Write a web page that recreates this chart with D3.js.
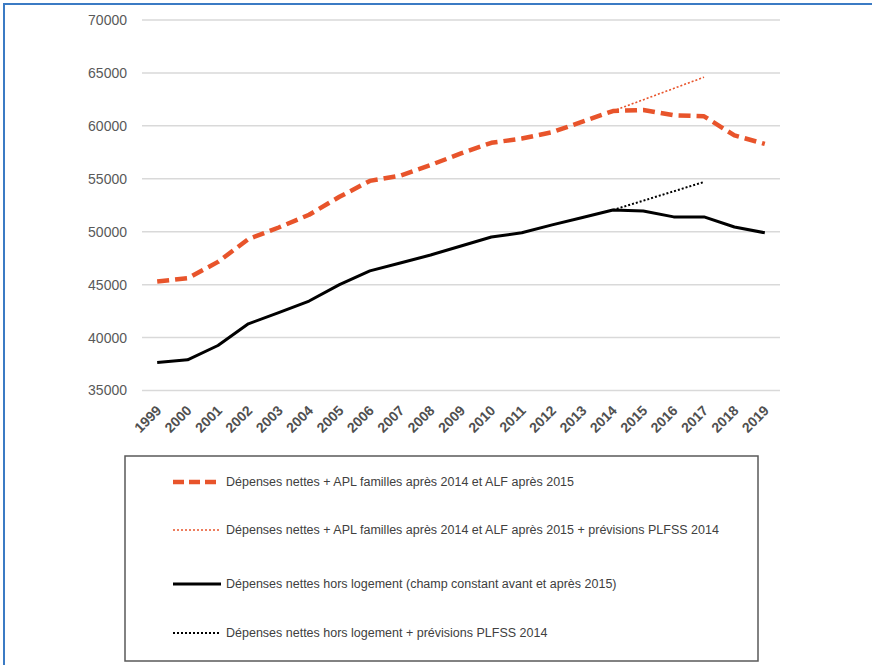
<!DOCTYPE html>
<html>
<head>
<meta charset="utf-8">
<script src="https://cdn.jsdelivr.net/npm/d3@7"></script>
<style>
  body { margin: 0; background: #fff; }
  svg { display: block; font-family: "Liberation Sans", Arial, sans-serif; }
</style>
</head>
<body>
<svg id="chart" width="872" height="665"></svg>
<script>
const years = ["1999","2000","2001","2002","2003","2004","2005","2006","2007","2008","2009",
               "2010","2011","2012","2013","2014","2015","2016","2017","2018","2019"];

// Dépenses nettes + APL familles après 2014 et ALF après 2015
const avecLogement = [45300, 45600, 47150, 49300, 50400, 51600, 53300, 54800, 55300, 56300, 57400,
                      58400, 58800, 59400, 60400, 61400, 61500, 61000, 60900, 59100, 58300];
// ... + prévisions PLFSS 2014
const avecLogementPrev = [null, null, null, null, null, null, null, null, null, null, null,
                          null, null, null, null, 61400, null, null, 64600, null, null];
// Dépenses nettes hors logement
const horsLogement = [37650, 37900, 39250, 41300, 42350, 43450, 45000, 46300, 47050, 47800, 48650,
                      49500, 49900, 50650, 51350, 52050, 51950, 51400, 51400, 50450, 49900];
// ... + prévisions PLFSS 2014
const horsLogementPrev = [null, null, null, null, null, null, null, null, null, null, null,
                          null, null, null, null, 52050, null, null, 54700, null, null];

const yTicks = [35000, 40000, 45000, 50000, 55000, 60000, 65000, 70000];

const legendLabels = [
  "Dépenses nettes + APL familles après 2014 et ALF après 2015",
  "Dépenses nettes + APL familles après 2014 et ALF après 2015 + prévisions PLFSS 2014",
  "Dépenses nettes hors logement (champ constant avant et après 2015)",
  "Dépenses nettes hors logement + prévisions PLFSS 2014"
];

const red = "#e8542b";
const series = [
  { values: avecLogement, color: red, width: 4.5, dash: "12,6" },
  { values: avecLogementPrev, color: red, width: 1.6, dash: "2,2" },
  { values: horsLogement, color: "#000", width: 3, dash: null },
  { values: horsLogementPrev, color: "#000", width: 2, dash: "2,2" }
];

const svg = d3.select("#chart");

// blue frame (top and left edges visible)
svg.append("rect")
  .attr("x", 4).attr("y", 4).attr("width", 1000).attr("height", 1000)
  .attr("fill", "none").attr("stroke", "#3b7bc4").attr("stroke-width", 2);

const x = d3.scalePoint().domain(years).range([142, 780]).padding(0.5);
const y = d3.scaleLinear().domain([35000, 70000]).range([390.5, 20]);

// gridlines
svg.append("g")
  .selectAll("line")
  .data(yTicks)
  .enter().append("line")
  .attr("x1", 142).attr("x2", 780)
  .attr("y1", d => y(d)).attr("y2", d => y(d))
  .attr("stroke", "#d9d9d9").attr("stroke-width", 1.5);

// y axis labels
const yAxis = svg.append("g")
  .attr("transform", "translate(127,0)")
  .call(d3.axisLeft(y).tickValues(yTicks).tickSize(0).tickPadding(0).tickFormat(d3.format("d")));
yAxis.select(".domain").remove();
yAxis.selectAll("text")
  .attr("fill", "#595959").attr("font-size", 14)
  .style("font-family", "'Liberation Sans', Arial, sans-serif");

// x axis labels
const xAxis = svg.append("g")
  .attr("transform", "translate(0,392)")
  .call(d3.axisBottom(x).tickSize(0).tickPadding(0));
xAxis.select(".domain").remove();
xAxis.selectAll("text")
  .attr("fill", "#505050").attr("font-size", 14).attr("font-weight", "bold")
  .style("font-family", "'Liberation Sans', Arial, sans-serif")
  .attr("text-anchor", "end")
  .attr("dy", "0.35em")
  .attr("transform", "translate(1,16) rotate(-45)");

// lines
const line = d3.line()
  .x(d => x(d.year))
  .y(d => y(d.value));

series.forEach(s => {
  const pts = years.map((yr, i) => ({ year: yr, value: s.values[i] }))
    .filter(d => d.value !== null);
  svg.append("path")
    .datum(pts)
    .attr("d", line)
    .attr("fill", "none")
    .attr("stroke", s.color)
    .attr("stroke-width", s.width)
    .attr("stroke-linejoin", "round")
    .attr("stroke-dasharray", s.dash);
});

// legend
const legend = svg.append("g");
legend.append("rect")
  .attr("x", 125).attr("y", 456).attr("width", 633).attr("height", 205)
  .attr("fill", "#fff").attr("stroke", "#595959").attr("stroke-width", 1.5);

const legendY = [482, 530, 584, 633];
series.forEach((s, i) => {
  legend.append("line")
    .attr("x1", 173).attr("x2", 221)
    .attr("y1", legendY[i]).attr("y2", legendY[i])
    .attr("stroke", s.color)
    .attr("stroke-width", s.width)
    .attr("stroke-dasharray", i === 0 ? "11,5" : s.dash);
  legend.append("text")
    .attr("x", 226).attr("y", legendY[i])
    .attr("dy", "0.35em")
    .attr("font-size", 12.5)
    .attr("fill", "#404040")
    .text(legendLabels[i]);
});
</script>
</body>
</html>
